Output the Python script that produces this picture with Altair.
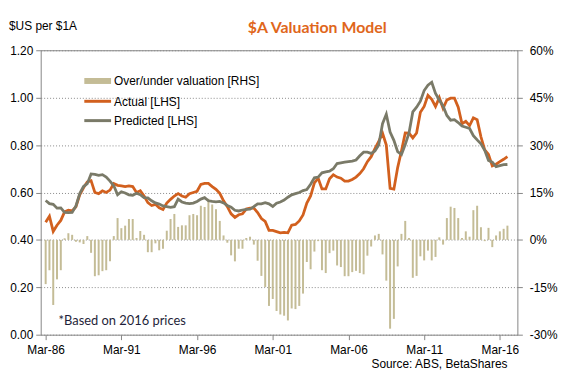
import altair as alt
import pandas as pd

# ---------------- data (quarterly, Mar-86 .. Sep-16) ----------------
start_year = 1986
over_under = [
    -14, -9.6, -20.6, -12.5, -9.6, 0.5, 2.1, 1.6, -0.6, -0.8,
    -1.3, 1.2, -4.1, -11.5, -11.2, -9.9, -9.6, -6.8, 1.2, 6.9,
    3.7, 4.5, 6.6, 6.6, 0.6, 2.8, 1.6, -3.9, -3.9, -1.1,
    -3.3, -2.8, 2.9, 6.6, 8.2, 4.1, 4.6, 4.6, 7.8, 8.2,
    7.8, 10.8, 10.4, 13.0, 11.2, 9.7, 6.0, 1.4, -0.9, -4.9,
    -6.8, -2.8, -2.8, 0.6, 1.0, -1.5, -6.6, -11.4, -14.9, -20.9,
    -18.7, -22.5, -23.6, -24.0, -25.5, -21.7, -21.9, -20.9, -17.0, -7.0,
    -9.3, -3.7, -0.4, -9.6, -10.5, -4.2, -3.4, -8.1, -8.6, -11.5,
    -11.5, -10.2, -9.8, -10.5, -10.9, -5.0, -2.1, 1.4, 1.9, -4.6,
    -12.9, -28.1, -25.0, -8.4, 1.9, 6.0, 0.6, -12.0, -11.4, -5.2,
    -6.5, -3.4, -6.5, -5.4, 0.8, -1.5, 6.9, 10.5, 10.1, 6.9,
    0.6, 2.7, 1.0, 9.4, 10.8, 4.0, -0.4, 3.8, -2.3, 1.4,
    2.7, 3.5, 4.5,
]
actual = [
    0.474, 0.50, 0.436, 0.462, 0.482, 0.518, 0.525, 0.522, 0.54, 0.59,
    0.62, 0.645, 0.65, 0.60, 0.595, 0.607, 0.60, 0.61, 0.638, 0.63,
    0.628, 0.625, 0.628, 0.625, 0.60, 0.607, 0.585, 0.557, 0.545, 0.55,
    0.535, 0.528, 0.555, 0.571, 0.585, 0.595, 0.585, 0.58, 0.595, 0.60,
    0.605, 0.634, 0.638, 0.638, 0.625, 0.613, 0.596, 0.565, 0.54, 0.51,
    0.495, 0.506, 0.51, 0.53, 0.534, 0.534, 0.515, 0.49, 0.478, 0.44,
    0.44, 0.435, 0.43, 0.432, 0.43, 0.462, 0.465, 0.48, 0.505, 0.555,
    0.585, 0.64, 0.66, 0.615, 0.615, 0.658, 0.675, 0.665, 0.66, 0.648,
    0.648, 0.655, 0.665, 0.68, 0.70, 0.73, 0.751, 0.785, 0.815, 0.85,
    0.80, 0.617, 0.614, 0.705, 0.775, 0.851, 0.85, 0.83, 0.851, 0.938,
    0.963, 1.01, 0.993, 0.963, 1.0, 0.955, 0.99, 0.998, 0.998, 0.96,
    0.89, 0.90, 0.882, 0.915, 0.907, 0.835, 0.78, 0.76, 0.712, 0.719,
    0.73, 0.74, 0.751,
]
predicted = [
    0.566, 0.553, 0.55, 0.534, 0.535, 0.516, 0.515, 0.516, 0.543, 0.595,
    0.625, 0.637, 0.678, 0.676, 0.672, 0.675, 0.665, 0.648, 0.628, 0.59,
    0.603, 0.598, 0.59, 0.588, 0.597, 0.591, 0.578, 0.577, 0.565, 0.556,
    0.551, 0.543, 0.54, 0.537, 0.54, 0.572, 0.56, 0.555, 0.553, 0.555,
    0.562, 0.572, 0.578, 0.565, 0.562, 0.56, 0.562, 0.556, 0.545, 0.538,
    0.525, 0.522, 0.526, 0.529, 0.53, 0.54, 0.552, 0.552, 0.557, 0.552,
    0.541, 0.555, 0.56, 0.568, 0.58, 0.59, 0.595, 0.60, 0.608, 0.612,
    0.635, 0.662, 0.665, 0.683, 0.687, 0.69, 0.70, 0.722, 0.725, 0.728,
    0.73, 0.732, 0.737, 0.755, 0.77, 0.77, 0.765, 0.775, 0.80, 0.89,
    0.93, 0.855, 0.82, 0.772, 0.76, 0.802, 0.851, 0.94, 0.96, 0.985,
    1.03, 1.053, 1.065, 1.018, 0.99, 0.965, 0.925, 0.905, 0.907, 0.895,
    0.88, 0.875, 0.87, 0.84, 0.822, 0.805, 0.778, 0.735, 0.728, 0.709,
    0.713, 0.717, 0.718,
]
tick_years = [1986, 1991, 1996, 2001, 2006, 2011, 2016]
tick_labels = ["Mar-86", "Mar-91", "Mar-96", "Mar-01", "Mar-06", "Mar-11", "Mar-16"]
left_ticks = [0, 0.2, 0.4, 0.6, 0.8, 1.0, 1.2]
right_ticks = [-30, -15, 0, 15, 30, 45, 60]

n = len(actual)
df = pd.DataFrame({
    "t": [start_year + i / 4 for i in range(n)],
    "over": over_under,
    "actual": actual,
    "predicted": predicted,
})

# ---------------- styling ----------------
FONT = "Liberation Sans"
AXIS_GREY = "#868686"
BAR_C = "#C4BC96"
ORANGE = "#D2601E"
GREY = "#7A7A68"
TITLE_C = "#E0661B"

label_expr = " : ".join(
    f"datum.value == {y} ? '{l}'" for y, l in zip(tick_years, tick_labels)
) + " : ''"

x_scale = alt.Scale(domain=[1986, 2016.83], nice=False, zero=False)
x_axis = alt.Axis(
    values=tick_years, labelExpr=label_expr, title=None, grid=False,
    domain=False, tickSize=5, tickColor=AXIS_GREY, labelPadding=5,
    labelFont=FONT, labelFontSize=12, labelColor="#000000")
left_scale = alt.Scale(domain=[0, 1.2], nice=False)
left_axis = alt.Axis(
    values=left_ticks, format=".2f", title=None, grid=True,
    gridColor="#8a8a8a", gridDash=[1, 2], gridWidth=1, domain=False,
    tickSize=5, tickColor=AXIS_GREY, labelPadding=3,
    labelFont=FONT, labelFontSize=12, labelColor="#000000")
right_axis = alt.Axis(
    orient="right", values=right_ticks, labelExpr="datum.value + '%'",
    title=None, grid=False, domain=False, tickSize=5, tickColor=AXIS_GREY,
    labelPadding=7, labelFont=FONT, labelFontSize=12, labelColor="#000000")

bars = alt.Chart(df).mark_bar(size=2, color=BAR_C).encode(
    x=alt.X("t:Q", scale=x_scale, axis=x_axis),
    y=alt.Y("over:Q", scale=alt.Scale(domain=[-30, 60], nice=False), axis=right_axis),
)

line_actual = alt.Chart(df).mark_line(color=ORANGE, strokeWidth=2.8).encode(
    x=alt.X("t:Q", scale=x_scale, axis=x_axis),
    y=alt.Y("actual:Q", scale=left_scale, axis=left_axis),
)
line_pred = alt.Chart(df).mark_line(color=GREY, strokeWidth=2.8).encode(
    x=alt.X("t:Q", scale=x_scale, axis=x_axis),
    y=alt.Y("predicted:Q", scale=left_scale, axis=left_axis),
)
lines = alt.layer(line_actual, line_pred)

one = alt.Data(values=[{"a": 1}])


def txt(s, x, y, align="left", size=12, font=FONT, color="#000000", weight="normal"):
    return alt.Chart(one).mark_text(
        align=align, baseline="alphabetic", fontSize=size, font=font,
        color=color, fontWeight=weight,
    ).encode(x=alt.value(x), y=alt.value(y), text=alt.value(s))


legend_rect = alt.Chart(one).mark_rect(color=BAR_C).encode(
    x=alt.value(44), x2=alt.value(71), y=alt.value(28), y2=alt.value(34))
legend_l1 = alt.Chart(one).mark_rule(color=ORANGE, strokeWidth=3).encode(
    x=alt.value(44), x2=alt.value(71), y=alt.value(51.5))
legend_l2 = alt.Chart(one).mark_rule(color=GREY, strokeWidth=3).encode(
    x=alt.value(44), x2=alt.value(71), y=alt.value(71))

annotations = [
    txt("$A Valuation Model", 279, -17, align="center", size=16, font="Lato",
        color=TITLE_C, weight="bold"),
    txt("$US per $1A", -32, -20),
    txt("Over/under valuation [RHS]", 74, 35),
    txt("Actual [LHS]", 74, 56),
    txt("Predicted [LHS]", 74, 75),
    txt("*Based on 2016 prices", 18, 277, size=13, font="Lato", color="#1F1F3A"),
    txt("Source: ABS, BetaShares", 471, 320.5, align="right"),
]

chart = alt.layer(
    bars, lines, legend_rect, legend_l1, legend_l2, *annotations
).resolve_scale(y="independent").properties(
    width=481, height=287,
    autosize=alt.AutoSizeParams(type="none"),
    padding={"left": 33, "top": 41, "right": 42, "bottom": 34},
).configure_view(stroke=AXIS_GREY, strokeWidth=1)

chart.save("out.html", embed_options={"renderer": "svg", "actions": False})
